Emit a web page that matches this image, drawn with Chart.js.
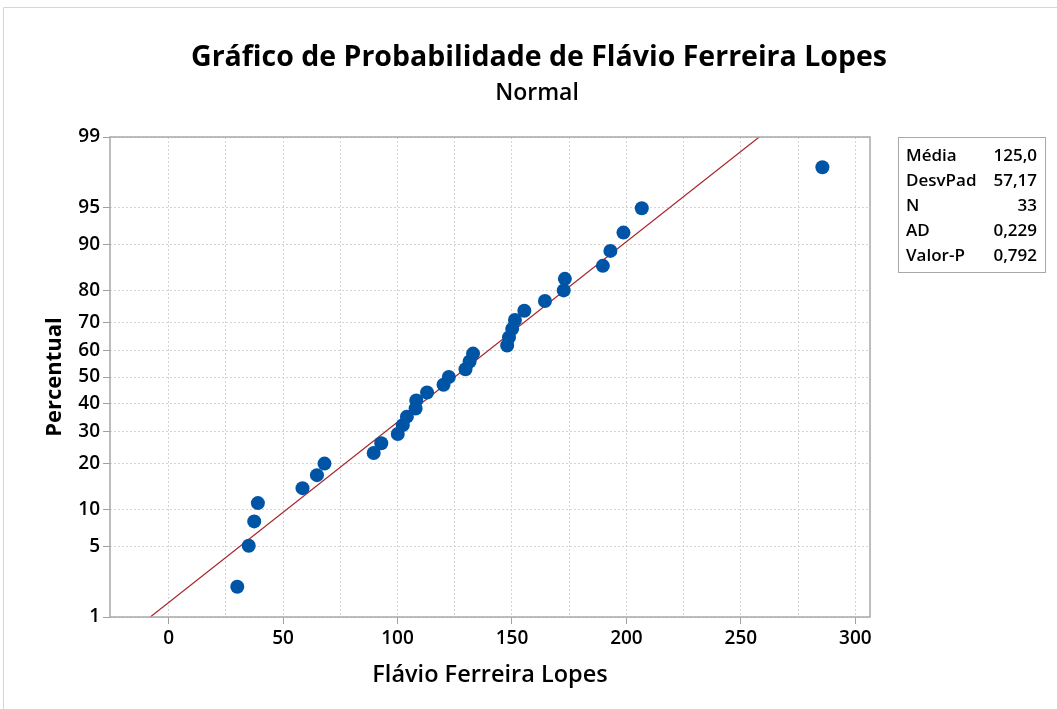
<!DOCTYPE html>
<html>
<head>
<meta charset="utf-8">
<title>Gráfico de Probabilidade</title>
<script src="https://cdn.jsdelivr.net/npm/chart.js@4/dist/chart.umd.min.js"></script>
<style>
  html, body { margin: 0; padding: 0; background: #fff; }
</style>
</head>
<body>
<canvas id="probPlot" width="1057" height="709"></canvas>
<script>
// dados
const xValues = [30.0, 35.0, 37.4, 39.0, 58.5, 64.8, 68.1, 89.6, 92.9, 100.1, 102.3,
  104.1, 107.9, 108.2, 112.9, 120.1, 122.4, 129.7, 131.5, 133.0, 147.9, 148.7,
  150.1, 151.3, 155.4, 164.4, 172.6, 173.1, 189.7, 193.0, 198.7, 206.7, 285.6];
const percentValues = [2.10, 5.09, 8.08, 11.08, 14.07, 17.07, 20.06, 23.05, 26.05,
  29.04, 32.04, 35.03, 38.02, 41.02, 44.01, 47.01, 50.00, 52.99, 55.99, 58.98,
  61.98, 64.97, 67.96, 70.96, 73.95, 76.95, 79.94, 82.93, 85.93, 88.92, 91.92,
  94.91, 97.90];
const fitX = [-8.0, 258.0];
const fitPercent = [1, 99];
const percentTicks = [1, 5, 10, 20, 30, 40, 50, 60, 70, 80, 90, 95, 99];
const xTicks = [0, 25, 50, 75, 100, 125, 150, 175, 200, 225, 250, 275, 300];
const statLabels = ['Média', 'DesvPad', 'N', 'AD', 'Valor-P'];
const statValues = ['125,0', '57,17', '33', '0,229', '0,792'];
const mainTitle = 'Gráfico de Probabilidade de Flávio Ferreira Lopes';
const subTitle = 'Normal';

// inversa da normal (Acklam)
function probit(p) {
  const a = [-39.69683028665376, 220.9460984245205, -275.9285104469687, 138.3577518672690, -30.66479806614716, 2.506628277459239];
  const b = [-54.47609879822406, 161.5858368580409, -155.6989798598866, 66.80131188771972, -13.28068155288572];
  const c = [-0.007784894002430293, -0.3223964580411365, -2.400758277161838, -2.549732539343734, 4.374664141464968, 2.938163982698783];
  const d = [0.007784695709041462, 0.3224671290700398, 2.445134137142996, 3.754408661907416];
  const pl = 0.02425;
  let q, r;
  if (p < pl) {
    q = Math.sqrt(-2 * Math.log(p));
    return (((((c[0]*q+c[1])*q+c[2])*q+c[3])*q+c[4])*q+c[5]) / ((((d[0]*q+d[1])*q+d[2])*q+d[3])*q+1);
  }
  if (p > 1 - pl) {
    q = Math.sqrt(-2 * Math.log(1 - p));
    return -(((((c[0]*q+c[1])*q+c[2])*q+c[3])*q+c[4])*q+c[5]) / ((((d[0]*q+d[1])*q+d[2])*q+d[3])*q+1);
  }
  q = p - 0.5; r = q * q;
  return (((((a[0]*r+a[1])*r+a[2])*r+a[3])*r+a[4])*r+a[5])*q / (((((b[0]*r+b[1])*r+b[2])*r+b[3])*r+b[4])*r+1);
}

function normCdf(z) {
  const t = 1 / (1 + 0.2316419 * Math.abs(z));
  const y = t * (0.319381530 + t * (-0.356563782 + t * (1.781477937 + t * (-1.821255978 + t * 1.330274429))));
  const p = 1 - Math.exp(-z * z / 2) / Math.sqrt(2 * Math.PI) * y;
  return z >= 0 ? p : 1 - p;
}

// escala de probabilidade normal
class ProbitScale extends Chart.Scale {
  determineDataLimits() {
    this.min = this.options.min;
    this.max = this.options.max;
  }
  buildTicks() {
    return percentTicks.map(v => ({ value: v }));
  }
  configure() {
    super.configure();
    this._zLo = probit(this.min / 100);
    this._zHi = probit(this.max / 100);
  }
  getPixelForValue(value) {
    return this.getPixelForDecimal((probit(value / 100) - this._zLo) / (this._zHi - this._zLo));
  }
  getValueForPixel(pixel) {
    const z = this._zLo + this.getDecimalForPixel(pixel) * (this._zHi - this._zLo);
    return 100 * normCdf(z);
  }
}
ProbitScale.id = 'probit';
ProbitScale.defaults = {};
Chart.register(ProbitScale);

const points = xValues.map((x, i) => ({ x: x, y: percentValues[i] }));
const fitLine = fitX.map((x, i) => ({ x: x, y: fitPercent[i] }));

const decor = {
  id: 'decor',
  afterDraw(chart) {
    const ctx = chart.ctx;
    const a = chart.chartArea;
    ctx.save();
    // moldura externa
    ctx.strokeStyle = '#d6d6d6';
    ctx.lineWidth = 1;
    ctx.beginPath();
    ctx.moveTo(3.5, 709); ctx.lineTo(3.5, 7.5); ctx.lineTo(1057, 7.5);
    ctx.stroke();
    // moldura do gráfico
    ctx.strokeStyle = '#a8a8a8';
    ctx.lineWidth = 1.5;
    ctx.strokeRect(a.left, a.top, a.right - a.left, a.bottom - a.top);
    // títulos
    ctx.fillStyle = '#000';
    ctx.textAlign = 'center';
    ctx.textBaseline = 'middle';
    ctx.font = '700 28.5px "Open Sans"';
    ctx.fillText(mainTitle, 539, 58);
    ctx.font = '600 23px "Open Sans"';
    ctx.fillText(subTitle, 537, 93);
    // caixa de estatísticas
    ctx.strokeStyle = '#a8a8a8';
    ctx.lineWidth = 1;
    ctx.strokeRect(898.5, 137.5, 147, 135);
    ctx.font = '600 17px "Open Sans"';
    statLabels.forEach((lab, i) => {
      const y = 156 + i * 25;
      ctx.textAlign = 'left';
      ctx.fillText(lab, 906, y);
      ctx.textAlign = 'right';
      ctx.fillText(statValues[i], 1037, y);
    });
    ctx.restore();
  }
};

new Chart(document.getElementById('probPlot'), {
  type: 'scatter',
  data: {
    datasets: [{
      label: 'Flávio Ferreira Lopes',
      data: points,
      backgroundColor: '#0054a6',
      borderWidth: 0,
      pointRadius: 7,
      showLine: false
    }, {
      label: 'Ajuste',
      data: fitLine,
      showLine: true,
      borderColor: '#a8262a',
      borderWidth: 1.2,
      pointRadius: 0
    }]
  },
  options: {
    responsive: false,
    animation: false,
    layout: { padding: { top: 137, right: 187, left: 0, bottom: 0 } },
    plugins: {
      legend: { display: false },
      tooltip: { enabled: false }
    },
    scales: {
      x: {
        type: 'linear',
        min: -25.6,
        max: 306.4,
        afterBuildTicks: s => { s.ticks = xTicks.map(v => ({ value: v })); },
        afterFit: s => { s.height = 92; },
        border: { display: false, dash: [2, 2] },
        grid: {
          color: '#d4d4d4',
          tickLength: 7,
          tickColor: c => (c.tick && c.tick.value % 50 === 0) ? '#a0a0a0' : 'rgba(0,0,0,0)'
        },
        ticks: {
          autoSkip: false,
          maxRotation: 0,
          padding: 3,
          color: '#000',
          font: { family: 'Open Sans', size: 19, weight: '600' },
          callback: v => (v % 50 === 0 ? String(v) : '')
        },
        title: {
          display: true,
          text: 'Flávio Ferreira Lopes',
          color: '#000',
          font: { family: 'Open Sans', size: 23.5, weight: '600' },
          padding: { top: 0, bottom: 20 }
        }
      },
      y: {
        type: 'probit',
        position: 'left',
        min: 1,
        max: 99,
        afterFit: s => { s.width = 110; },
        border: { display: false, dash: [2, 2] },
        grid: {
          color: '#d4d4d4',
          tickLength: 7,
          tickColor: '#a0a0a0'
        },
        ticks: {
          autoSkip: false,
          padding: 3,
          color: '#000',
          font: { family: 'Open Sans', size: 19, weight: '600' },
          callback: v => String(v)
        },
        title: {
          display: true,
          text: 'Percentual',
          color: '#000',
          font: { family: 'Open Sans', size: 22, weight: '700' },
          padding: { top: 42, bottom: 0 }
        }
      }
    }
  },
  plugins: [decor]
});
</script>
</body>
</html>
